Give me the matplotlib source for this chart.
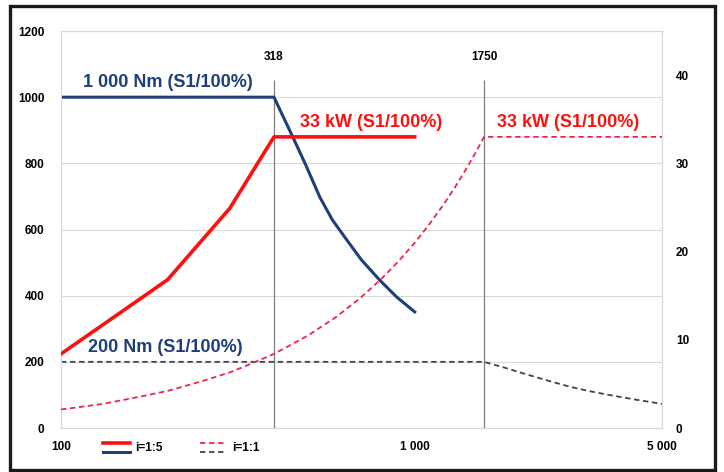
import matplotlib
matplotlib.use("Agg")
import matplotlib.pyplot as plt
from matplotlib.patches import Rectangle
from matplotlib.lines import Line2D

plt.rcParams['font.family'] = ['Liberation Sans', 'DejaVu Sans']

# i=1:5 - moment
n_t5 = [100, 400, 452, 492, 539, 585, 643, 707, 796, 889, 1000]
t_t5 = [1000, 1000, 880, 795, 698, 629, 568, 508, 447, 396, 351]
# i=1:5 - vykon
n_p5 = [100, 200, 300, 400, 1000]
p_p5 = [8.4, 16.8, 24.9, 33, 33]
# i=1:1 - moment
n_t1 = [100, 1570, 1800, 2000, 2400, 2740, 3100, 3500, 4200, 5000]
t_t1 = [200, 200, 182, 167, 142, 125, 112, 101, 86, 73]
# i=1:1 - vykon
n_p1 = [100, 130, 160, 200, 250, 300, 350, 400, 500, 600, 700, 800, 900,
        1000, 1100, 1200, 1300, 1400, 1500, 1570, 5000]
p_p1 = [2.1, 2.7, 3.4, 4.2, 5.3, 6.3, 7.4, 8.4, 10.5, 12.6, 14.7, 16.8, 18.9,
        21.0, 23.1, 25.2, 27.3, 29.4, 31.5, 33, 33]

knee_speeds = [400, 1570]
knee_labels = ['318', '1750']

x_ticks = [100, 1000, 5000]
x_labels = ['100', '1 000', '5 000']
left_ticks = [0, 200, 400, 600, 800, 1000, 1200]
right_ticks = [0, 10, 20, 30, 40]

blue = '#1f3f7a'
red = '#ff1010'
red_d = '#e8284a'
blue_d = '#3a4656'

fig = plt.figure(figsize=(7.24, 4.72), dpi=100)
ax = fig.add_axes([0.0843, 0.0932, 0.83, 0.8411])
ax2 = ax.twinx()

ax.set_xscale('log')
ax.set_xlim(100, 5000)
ax.set_ylim(0, 1200)
ax2.set_ylim(0, 45)

ax.set_yticks(left_ticks)
ax.set_yticklabels([str(v) for v in left_ticks])
ax2.set_yticks(right_ticks)
ax2.set_yticklabels([str(v) for v in right_ticks])
ax.set_xticks(x_ticks)
ax.set_xticklabels(x_labels)
ax.xaxis.set_minor_locator(plt.NullLocator())

for a in (ax, ax2):
    a.tick_params(length=0, labelsize=8.5)
    for s in a.spines.values():
        s.set_color('#d9d9d9')
        s.set_linewidth(0.8)
for lab in ax.get_xticklabels() + ax.get_yticklabels() + ax2.get_yticklabels():
    lab.set_fontweight('bold')
ax.tick_params(axis='y', pad=12)
ax.tick_params(axis='x', pad=9)
ax2.tick_params(axis='y', pad=10)

ax.grid(axis='y', color='#d9d9d9', linewidth=0.8)
ax.set_axisbelow(True)

# svisle cary
ax.vlines(knee_speeds, 0, 1052, color='#7f7f7f', linewidth=0.9)
for xs, lb in zip(knee_speeds, knee_labels):
    ax.text(xs, 1120, lb, ha='center', va='center', fontsize=8.5, fontweight='bold')

ax.plot(n_t5, t_t5, color=blue, linewidth=2.2, zorder=3)
ax.plot(n_t1, t_t1, color=blue_d, linewidth=1.3, linestyle=(0, (3, 2)), zorder=3)
ax2.plot(n_p5, p_p5, color=red, linewidth=2.6, zorder=3)
ax2.plot(n_p1, p_p1, color=red_d, linewidth=1.3, linestyle=(0, (3, 2)), zorder=3)

ax.text(115, 1018, '1 000 Nm (S1/100%)', color=blue, fontsize=13, fontweight='bold', va='bottom')
ax.text(119, 218, '200 Nm (S1/100%)', color=blue, fontsize=13, fontweight='bold', va='bottom')
ax2.text(473, 33.7, '33 kW (S1/100%)', color=red, fontsize=13, fontweight='bold', va='bottom')
ax2.text(1705, 33.7, '33 kW (S1/100%)', color=red, fontsize=13, fontweight='bold', va='bottom')

# legenda
def leg_pair(x0, style_top, style_bot, label):
    fig.add_artist(Line2D([x0, x0 + 27 / 724], [1 - 443 / 472] * 2, color=style_top[0],
                          linewidth=style_top[1], linestyle=style_top[2]))
    fig.add_artist(Line2D([x0, x0 + 27 / 724], [1 - 452 / 472] * 2, color=style_bot[0],
                          linewidth=style_bot[1], linestyle=style_bot[2]))
    fig.text(x0 + 32 / 724, 1 - 448 / 472, label, fontsize=8.5, fontweight='bold', va='center')

leg_pair(103 / 724, (red, 2.6, '-'), (blue, 2.2, '-'), 'i=1:5')
leg_pair(200 / 724, (red_d, 1.3, (0, (3, 2))), (blue_d, 1.3, (0, (3, 2))), 'i=1:1')

# ramecek
fig.add_artist(Rectangle((10 / 724, 1 - 470 / 472), 705 / 724, 464 / 472,
                         fill=False, edgecolor='#1a1a1a', linewidth=2.4, transform=fig.transFigure))

fig.savefig('out.png', dpi=100)
